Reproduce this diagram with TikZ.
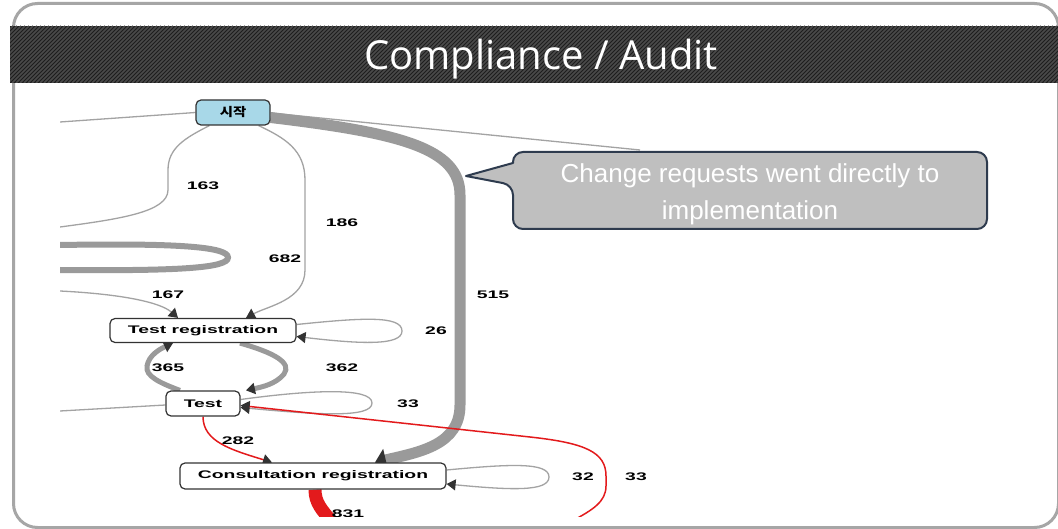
\documentclass[tikz,border=0pt]{standalone}
\usepackage{graphicx}
\usepackage{fontspec}
\setmainfont{Liberation Sans}
\newfontfamily\titlefont{Open Sans}
\newfontfamily\krfont{Noto Sans CJK KR}
\usetikzlibrary{arrows.meta,calc,backgrounds}
\definecolor{framegray}{HTML}{A6A6A6}
\definecolor{banddark}{HTML}{1E1E1E}
\definecolor{bandline}{HTML}{4A4A4A}
\definecolor{edgegray}{HTML}{A3A3A3}
\definecolor{thickgray}{HTML}{9A9A9A}
\definecolor{tipgray}{HTML}{333333}
\definecolor{startblue}{HTML}{A8D8E8}
\definecolor{nodeborder}{HTML}{333333}
\definecolor{edgered}{HTML}{E31A1C}
\definecolor{callfill}{HTML}{BFBFBF}
\definecolor{callborder}{HTML}{2E3B4E}
\newcommand\wx[1]{\scalebox{1.76}[1]{#1}}
\tikzset{
  box/.style={draw=nodeborder, line width=1.2pt, rounded corners=5pt, fill=white,
    inner sep=0pt, font=\fontsize{11}{13}\selectfont\bfseries},
  lbl/.style={inner sep=0pt, font=\fontsize{11}{13}\selectfont\bfseries},
  gline/.style={draw=edgegray, line width=1.3pt},
  rline/.style={draw=edgered, line width=1.5pt},
  tip/.style={-{Triangle[length=9pt,width=11pt,color=tipgray]}},
  bigtip/.style={-{Triangle[length=11pt,width=22pt,color=tipgray]}},
}
\begin{document}
\begin{tikzpicture}[x=1pt,y=-1pt]
\useasboundingbox (0,0) rectangle (1058,529);
\begin{pgfonlayer}{background}
\fill[white] (0,0) rectangle (1058,529);
\end{pgfonlayer}
\begin{scope}
\clip (0,0) rectangle (1058,529);
% frame
\draw[framegray, line width=3pt, rounded corners=24pt] (13.5,3.5) rectangle (1058.5,527.5);
% hatched band
\begin{scope}
\clip (10,26) rectangle (1058,83);
\fill[banddark] (10,26) rectangle (1058,83);
\foreach \x in {-60,-56,...,1060} \draw[bandline, line width=1.6pt] (\x,83) -- ++(57,-57);
\end{scope}
\end{scope}
\node[anchor=base, text=white, inner sep=0pt, font=\titlefont\fontsize{40}{44}\selectfont] (title) at (541,70) {Compliance / Audit};

% nodes
\node[box, fill=startblue, minimum width=74pt, minimum height=25pt, font=\krfont\fontsize{12}{14}\selectfont\bfseries] (start) at (233,112.5) {\scalebox{1.2}[1]{시작}};
\node[box, minimum width=186pt, minimum height=24pt] (tr) at (203,330.5) {\wx{Test registration}};
\node[box, minimum width=74pt, minimum height=25pt] (test) at (203,403.5) {\wx{Test}};
\node[box, minimum width=266pt, minimum height=26pt] (cr) at (313,476) {\wx{Consultation registration}};

\begin{pgfonlayer}{background}
\begin{scope}
\clip (60,86) rectangle (1000,516);
\coordinate (L1) at (60,122);
\coordinate (L2) at (60,227);
\coordinate (L3a) at (60,245);
\coordinate (L3b) at (60,270);
\coordinate (L4) at (60,291);
\coordinate (L5) at (60,411);
\coordinate (C1) at (640,150);
\coordinate (R1) at (574,520);
\coordinate (B1) at (332,522);
% edges
\draw[gline] (L1) -- (start.west);
\draw[gline] ($(start.east)+(0,0.5)$) -- (C1);
\draw[thickgray, line width=11pt, bigtip] ($(start.east)+(0,5)$) .. controls (400,133) and (460,148) .. (460,195) -- (460,405) .. controls (460,445) and (420,452) .. ($(cr.north)+(62,0)$);
\draw[gline] ($(start.south west)+(14,0)$) .. controls (185,138) and (168,148) .. (168,170) -- (168,190) .. controls (168,212) and (120,219) .. (L2);
\draw[gline, tip] ($(start.south east)+(-12,0)$) .. controls (285,138) and (305,150) .. (305,180) -- (305,270) .. controls (305,300) and (268,306) .. ($(tr.north)+(43,0)$);
\draw[thickgray, line width=6pt] (L3a) .. controls (180,243) and (228,247) .. (228,257.5) .. controls (228,268) and (180,271) .. (L3b);
\draw[gline, tip] (L4) .. controls (120,294) and (160,302) .. ($(tr.north)+(-25,0)$);
\draw[gline, tip] ($(tr.east)+(0,-6)$) .. controls (360,318) and (402,315) .. (402,331) .. controls (402,346) and (360,344) .. ($(tr.east)+(0,6)$);
\draw[thickgray, line width=5pt, tip] ($(tr.south)+(37,0)$) .. controls (275,353) and (292,363) .. (284,374) .. controls (276,384) and (262,387) .. ($(test.north)+(43,0)$);
\draw[thickgray, line width=5pt, tip] ($(test.north)+(-23,0)$) .. controls (160,383) and (145,376) .. (147,366) .. controls (149,355) and (160,349) .. ($(tr.south)+(-30,0)$);
\draw[gline] (L5) -- ($(test.west)+(0,1.5)$);
\draw[gline, tip] ($(test.east)+(0,-4)$) .. controls (310,390) and (372,387) .. (372,403) .. controls (372,418) and (320,415) .. ($(test.east)+(0,4)$);
\draw[rline, tip] (test.south) .. controls (203,442) and (232,450) .. ($(cr.north)+(-41,0)$);
\draw[rline, tip] (R1) .. controls (592,510) and (606,502) .. (606,486) -- (606,476) .. controls (606,452) and (585,443) .. (530,437) -- ($(test.east)+(0,2)$);
\draw[gline, tip] ($(cr.east)+(0,-6)$) .. controls (510,464) and (549,462) .. (549,477) .. controls (549,492) and (510,490) .. ($(cr.east)+(0,8)$);
\draw[edgered, line width=13pt] ($(cr.south)+(2,0)$) .. controls (315,503) and (322,510) .. (B1);
% labels
\node[lbl] (l163) at (203,186) {\wx{163}};
\node[lbl] (l186) at (342,223) {\wx{186}};
\node[lbl] (l682) at (285,259) {\wx{682}};
\node[lbl] (l167) at (168,295) {\wx{167}};
\node[lbl] (l515) at (493,295) {\wx{515}};
\node[lbl] (l26) at (436,331) {\wx{26}};
\node[lbl] (l365) at (168,368) {\wx{365}};
\node[lbl] (l362) at (342,368) {\wx{362}};
\node[lbl] (l33a) at (408,404) {\wx{33}};
\node[lbl] (l282) at (238,441) {\wx{282}};
\node[lbl] (l32) at (583,477) {\wx{32}};
\node[lbl] (l33b) at (636,477) {\wx{33}};
\node[lbl] (l831) at (348,514) {\wx{831}};
\end{scope}
\end{pgfonlayer}

% callout
\draw[fill=callfill, draw=callborder, line width=2pt, line join=round] (466,176) -- (513,163) {[rounded corners=10pt] -- (513,152) -- (987,152) -- (987,229) -- (513,229) -- (513,185)} -- cycle;
\node[text=white, align=center, inner sep=0pt, font=\fontsize{26}{37}\selectfont] (note) at (750,194) {Change requests went directly to\\implementation};
\end{tikzpicture}
\end{document}
